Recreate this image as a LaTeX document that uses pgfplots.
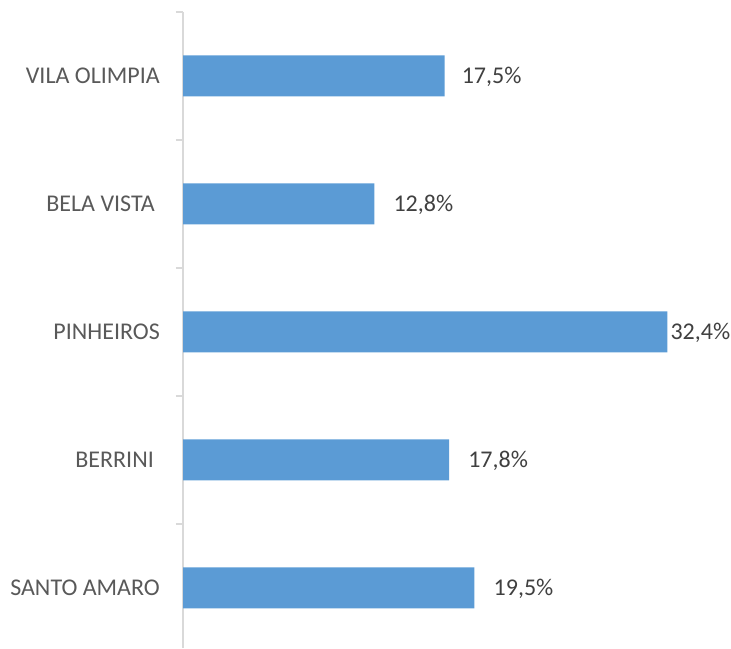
\documentclass[border=0pt]{standalone}
\usepackage{pgfplots}
\pgfplotsset{compat=1.18}
\usepackage{pgfplotstable}
\usepackage{fontspec}
\setmainfont{Carlito}
\definecolor{barblue}{HTML}{5B9BD5}
\definecolor{axisgrey}{HTML}{D9D9D9}
\definecolor{catgrey}{HTML}{595959}
\definecolor{valgrey}{HTML}{404040}
\pgfplotstableread{
y val off
0 19.5 19
1 17.8 19
2 32.4 3
3 12.8 19
4 17.5 17
}\datatable
\begin{document}
\begin{tikzpicture}
\useasboundingbox (0,0) rectangle (731pt,648pt);
\begin{axis}[
  at={(183pt,0pt)}, anchor=south west,
  scale only axis, width=548pt, height=636pt,
  xmin=0, xmax=36.66, ymin=-0.469, ymax=4.5,
  axis x line=none,
  axis y line*=left,
  axis line style={draw=axisgrey, line width=1.3pt, -},
  ytick={0,1,2,3,4},
  yticklabels={SANTO AMARO, BERRINI\kern6pt, PINHEIROS, BELA VISTA\kern5pt, VILA OLIMPIA},
  minor ytick={0.5,1.5,2.5,3.5,4.5},
  major tick length=0pt,
  minor tick length=7pt,
  tick align=outside,
  tick style={draw=axisgrey, line width=1.3pt},
  yticklabel style={font=\fontsize{24}{28}\selectfont, text=catgrey, inner sep=0pt, anchor=east, xshift=-23pt},
  xbar, bar width=41pt, bar shift=0pt,
  clip=false,
  point meta=x,
  /pgf/number format/assume math mode=true,
  nodes near coords={\pgfmathprintnumber[fixed, fixed zerofill, precision=1, use comma, assume math mode=true]{\pgfplotspointmeta}\%},
  visualization depends on={\thisrow{off} \as \off},
  every node near coord/.append style={font=\fontsize{24}{28}\selectfont, text=valgrey, anchor=west, inner sep=0pt, xshift=\off pt, yshift=-1pt},
]
\addplot[fill=barblue, draw=none] table[x=val, y=y] {\datatable};
\end{axis}
\end{tikzpicture}
\end{document}
